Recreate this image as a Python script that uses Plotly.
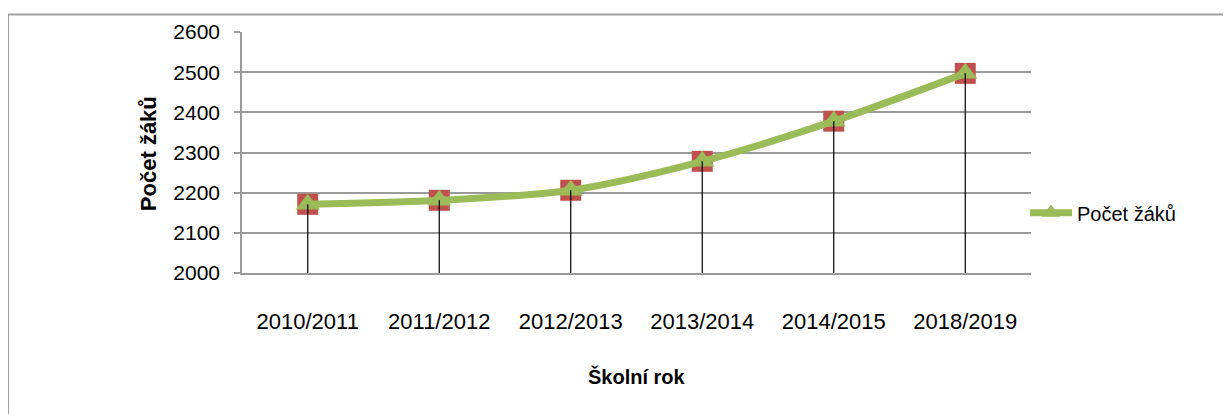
import plotly.graph_objects as go

years = ["2010/2011", "2011/2012", "2012/2013", "2013/2014", "2014/2015", "2018/2019"]
pupils = [2171, 2181, 2206, 2278, 2378, 2497]
y_ticks = [2000, 2100, 2200, 2300, 2400, 2500, 2600]
series_name = "Počet žáků"
x_title = "Školní rok"
y_title = "Počet žáků"

GREEN = "#9BBB59"
RED = "#C0504D"
GRID = "#9a9a9a"
FONT = "Liberation Sans, Arial, sans-serif"

# drop-line coordinates derived from data
drop_x, drop_y = [], []
for cat, v in zip(years, pupils):
    drop_x += [cat, cat, None]
    drop_y += [v, y_ticks[0], None]

fig = go.Figure()
fig.add_trace(go.Scatter(
    x=years, y=pupils, mode="markers", showlegend=False, hoverinfo="skip",
    marker=dict(symbol="square", size=21, color=RED, line=dict(width=0)),
))
fig.add_trace(go.Scatter(
    x=years, y=pupils, mode="lines+markers", name=series_name,
    line=dict(color=GREEN, width=7, shape="spline", smoothing=0.8),
    marker=dict(symbol="triangle-up", size=21, color=GREEN, line=dict(width=0)),
))
fig.add_trace(go.Scatter(
    x=drop_x, y=drop_y, mode="lines", showlegend=False, hoverinfo="skip",
    line=dict(color="black", width=1.2),
))

OFF = 8  # page body margin
W, H = 1223, 406
L, T = 242 - OFF, 30 - OFF
R = W - (1031 - OFF)
B = H - (272.7 - OFF)
pw, ph = W - L - R, H - T - B

def px2paper_x(px):
    return (px - OFF - L) / pw

def px2paper_y(py):
    return (H - B - (py - OFF)) / ph

fig.update_layout(
    width=W, height=H,
    margin=dict(l=L, r=R, t=T, b=B, pad=0),
    paper_bgcolor="white", plot_bgcolor="white",
    font=dict(family=FONT, color="black"),
    showlegend=True,
    legend=dict(
        x=px2paper_x(1025), xanchor="left", y=px2paper_y(212), yanchor="middle",
        font=dict(family=FONT, size=20, color="black"),
        bgcolor="rgba(0,0,0,0)", borderwidth=0, itemwidth=42,
    ),
    xaxis=dict(
        type="category", categoryorder="array", categoryarray=years,
        range=[-0.5, len(years) - 0.5],
        showgrid=False, zeroline=False,
        showline=True, linecolor=GRID, linewidth=1.5,
        ticks="", tickfont=dict(family=FONT, size=22, color="black"),
        ticklabelstandoff=28,
    ),
    yaxis=dict(
        range=[y_ticks[0], y_ticks[-1]], tickvals=y_ticks,
        showgrid=True, gridcolor=GRID, gridwidth=1.5, zeroline=False,
        showline=True, linecolor=GRID, linewidth=1.5,
        ticks="outside", ticklen=6, tickcolor=GRID, tickwidth=1.5,
        tickfont=dict(family=FONT, size=21, color="black"),
        ticklabelstandoff=10,
    ),
    annotations=[
        dict(text=f"<b>{x_title}</b>", xref="paper", yref="paper",
             x=0.5, y=px2paper_y(377), xanchor="center", yanchor="middle",
             showarrow=False, font=dict(family=FONT, size=20, color="black")),
        dict(text=f"<b>{y_title}</b>", xref="paper", yref="paper",
             x=px2paper_x(148), y=px2paper_y(153), xanchor="center", yanchor="middle",
             textangle=-90, showarrow=False,
             font=dict(family=FONT, size=22, color="black")),
    ],
    shapes=[
        dict(type="line", xref="paper", yref="paper",
             x0=px2paper_x(8), x1=px2paper_x(1260), y0=px2paper_y(12.5), y1=px2paper_y(12.5),
             line=dict(color="#a0a0a0", width=2)),
        dict(type="line", xref="paper", yref="paper",
             x0=px2paper_x(8), x1=px2paper_x(8), y0=px2paper_y(12.5), y1=px2paper_y(440),
             line=dict(color="#a0a0a0", width=2)),
    ],
)

fig.write_html("out.html")
